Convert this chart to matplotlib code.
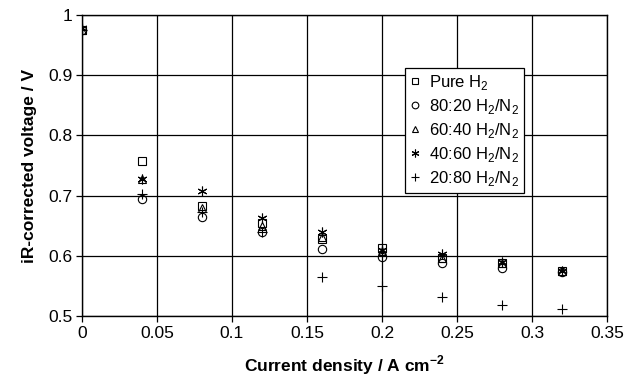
import matplotlib
matplotlib.use('Agg')
import matplotlib.pyplot as plt

plt.rcParams['font.family'] = ['Liberation Sans', 'DejaVu Sans']
plt.rcParams['mathtext.fontset'] = 'custom'
plt.rcParams['mathtext.rm'] = 'Liberation Sans'
plt.rcParams['mathtext.bf'] = 'Liberation Sans:bold'

# Datos
densidad = [0.0, 0.04, 0.08, 0.12, 0.16, 0.20, 0.24, 0.28, 0.32]
puro_h2 = [0.975, 0.757, 0.683, 0.655, 0.628, 0.613, 0.597, 0.588, 0.575]
h2_80_20 = [0.975, 0.695, 0.665, 0.640, 0.612, 0.598, 0.588, 0.580, 0.573]
h2_60_40 = [0.975, 0.727, 0.680, 0.650, 0.632, 0.608, 0.597, 0.588, 0.575]
h2_40_60 = [0.978, 0.727, 0.707, 0.663, 0.640, 0.610, 0.603, 0.590, 0.575]
h2_20_80 = [0.975, 0.703, 0.673, 0.640, 0.565, 0.550, 0.532, 0.518, 0.512]

etiquetas = ['Pure H$_2$', '80:20 H$_2$/N$_2$', '60:40 H$_2$/N$_2$',
             '40:60 H$_2$/N$_2$', '20:80 H$_2$/N$_2$']
series = [puro_h2, h2_80_20, h2_60_40, h2_40_60, h2_20_80]
marcadores = ['s', 'o', '^', (6, 2, 0), '+']
tamanos = [6, 6, 6, 7, 7]

fig = plt.figure(figsize=(6.25, 3.8), dpi=100)
ax = fig.add_axes([82 / 625, 1 - 316 / 380, 525 / 625, 301 / 380])

for y, m, s, lab in zip(series, marcadores, tamanos, etiquetas):
    ax.plot(densidad, y, linestyle='none', marker=m, markersize=s,
            markerfacecolor='none', markeredgecolor='black', color='black',
            markeredgewidth=0.8, label=lab)

ax.set_xlim(0, 0.35)
ax.set_ylim(0.5, 1.0)
ax.set_xticks([0, 0.05, 0.1, 0.15, 0.2, 0.25, 0.3, 0.35])
ax.set_xticklabels(['0', '0.05', '0.1', '0.15', '0.2', '0.25', '0.3', '0.35'])
ax.set_yticks([0.5, 0.6, 0.7, 0.8, 0.9, 1.0])
ax.set_yticklabels(['0.5', '0.6', '0.7', '0.8', '0.9', '1'])
ax.grid(True, color='black', linewidth=0.9)
ax.set_axisbelow(True)
for sp in ax.spines.values():
    sp.set_linewidth(1.0)
ax.tick_params(direction='out', length=4, width=0.9, labelsize=12.5, pad=3)

ax.set_xlabel(r'Current density / A cm$^{\mathbf{-2}}$', fontsize=12.5, fontweight='bold', labelpad=9)
ax.set_ylabel('iR-corrected voltage / V', fontsize=12.5, fontweight='bold', labelpad=8)

leg = ax.legend(loc='upper left', bbox_to_anchor=((397 - 82) / 525, (316 - 60) / 301),
                fontsize=12, frameon=True, fancybox=False, framealpha=1,
                edgecolor='black', handlelength=0.6, handletextpad=0.5,
                borderpad=0.3, labelspacing=0.3, markerscale=0.8)
leg.get_frame().set_linewidth(0.9)

fig.savefig('out.png', dpi=100)
